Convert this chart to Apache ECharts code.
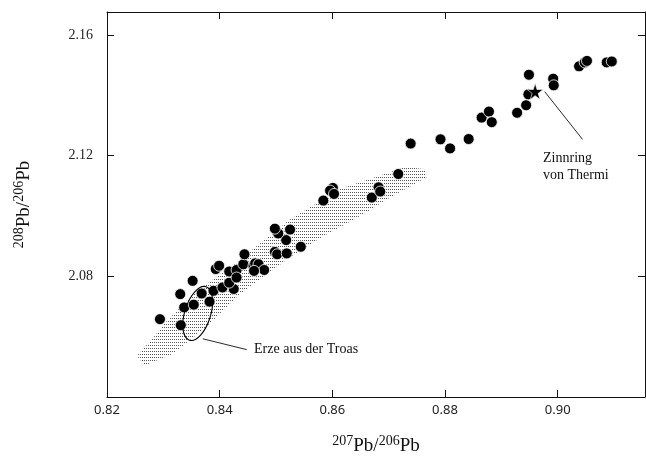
<!DOCTYPE html>
<html>
<head>
<meta charset="utf-8">
<script src="https://cdn.jsdelivr.net/npm/echarts@6/dist/echarts.min.js"></script>
<style>
html,body{margin:0;padding:0;background:#fff;}
#chart{width:646px;height:464px;}
</style>
</head>
<body>
<div id="chart"></div>
<script>
// ---- data ----
const pbX = [0.8294,0.8331,0.8337,0.8330,0.8354,0.8352,0.8368,0.8382,0.8389,0.8405,
             0.8425,0.8417,0.8393,0.8399,0.8417,0.8430,0.8430,0.8442,0.8444,0.8460,
             0.8463,0.8469,0.8479,0.8461,0.8498,0.8502,0.8518,0.8519,0.8544,0.8504,
             0.8498,0.8525,0.8584,0.8601,0.8596,0.8603,0.8670,0.8682,0.8685,0.8717,
             0.8739,0.8792,0.8809,0.8842,0.8865,0.8878,0.8883,0.8928,0.8944,0.8948,
             0.8949,0.8992,0.8993,0.9038,0.9048,0.9052,0.9087,0.9096];
const pbY = [2.0658,2.0638,2.0697,2.0741,2.0706,2.0785,2.0743,2.0716,2.0752,2.0763,
             2.0758,2.0779,2.0824,2.0835,2.0816,2.0821,2.0796,2.0840,2.0873,2.0835,
             2.0843,2.0840,2.0821,2.0818,2.0881,2.0873,2.0920,2.0876,2.0898,2.0942,
             2.0958,2.0955,2.1051,2.1093,2.1084,2.1073,2.1061,2.1095,2.1081,2.1139,
             2.1240,2.1254,2.1224,2.1255,2.1326,2.1346,2.1311,2.1342,2.1367,2.1403,
             2.1468,2.1455,2.1433,2.1496,2.1509,2.1514,2.1509,2.1512];
const starX = [0.8960];
const starY = [2.1413];
// stippled field (ores from the Troad), outline vertices
const bandX = [0.8253,0.8276,0.8303,0.8353,0.8436,0.8525,0.8614,0.8672,0.8729,0.8763,
               0.8768,0.8702,0.8644,0.8583,0.8525,0.8436,0.8378,0.8317,0.8267];
const bandY = [2.0537,2.0583,2.0645,2.0741,2.0856,2.0988,2.1090,2.1126,2.1162,2.1156,
               2.1129,2.1060,2.0994,2.0932,2.0863,2.0741,2.0635,2.0543,2.0504];
// ellipse centre
const ellX = [0.8361];
const ellY = [2.0677];
// annotations
const noteText = ['Erze aus der Troas', 'Zinnring\nvon Thermi'];
const noteLineFrom = [[0.8370, 2.0593], [0.8977, 2.1412]];
const noteLineTo   = [[0.8448, 2.0557], [0.9044, 2.1254]];
const noteTextAt   = [[0.8461, 2.0557], [0.8974, 2.1164]];
const xTickStep = 0.02, yTickStep = 0.04;

// ---- chart ----
const chart = echarts.init(document.getElementById('chart'), null, {renderer:'canvas'});
const pc = document.createElement('canvas');
pc.width = 2; pc.height = 3;
const pctx = pc.getContext('2d');
pctx.fillStyle = '#555';
pctx.fillRect(0, 0, 1, 1);
const stipple = {type:'pattern', image: pc, repeat: 'repeat'};

const serif = 'Liberation Serif';
const axisLineStyle = {color:'#111', width:1};
const nameRich = {
  s: {fontSize: 14, fontFamily: serif, color:'#111', verticalAlign:'top', lineHeight: 14},
  p: {fontSize: 19, fontFamily: serif, color:'#111', lineHeight: 25}
};

const starPath = 'path://M50,0 L61,35 L98,35 L68,57 L79,91 L50,70 L21,91 L32,57 L2,35 L39,35 Z';

const option = {
  animation: false,
  backgroundColor: '#fff',
  grid: {left: 107, right: 1, top: 12, bottom: 65, containLabel: false},
  xAxis: [{
    type: 'value', min: 0.82, max: 0.9155, interval: xTickStep, position: 'bottom',
    axisLine: {show: true, onZero: false, lineStyle: axisLineStyle},
    axisTick: {show: true, inside: true, length: 7, lineStyle: axisLineStyle},
    axisLabel: {formatter: v => v.toFixed(2), fontFamily: 'Noto Sans', fontSize: 13, color: '#222', margin: 7, showMaxLabel: false},
    splitLine: {show: false},
    name: '{s|207}{p|Pb}/{s|206}{p|Pb}', nameLocation: 'middle', nameGap: 37,
    nameTextStyle: {fontSize: 19, fontFamily: serif, color: '#111', lineHeight: 25, rich: nameRich}
  }, {
    type: 'value', min: 0.82, max: 0.9155, interval: xTickStep, position: 'top',
    axisLine: {show: true, onZero: false, lineStyle: axisLineStyle},
    axisTick: {show: true, inside: true, length: 7, lineStyle: axisLineStyle},
    axisLabel: {show: false}, splitLine: {show: false}
  }],
  yAxis: [{
    type: 'value', min: 2.04, max: 2.1676, interval: yTickStep, position: 'left',
    axisLine: {show: true, onZero: false, lineStyle: axisLineStyle},
    axisTick: {show: true, inside: true, length: 7, lineStyle: axisLineStyle},
    axisLabel: {formatter: v => v.toFixed(2), fontFamily: serif, fontSize: 14, color: '#222', margin: 14, showMinLabel: false, showMaxLabel: false},
    splitLine: {show: false},
    name: '{s|208}{p|Pb}/{s|206}{p|Pb}', nameLocation: 'middle', nameGap: 70, nameRotate: 90,
    nameTextStyle: {fontSize: 19, fontFamily: serif, color: '#111', lineHeight: 25, rich: nameRich}
  }, {
    type: 'value', min: 2.04, max: 2.1676, interval: yTickStep, position: 'right',
    axisLine: {show: true, onZero: false, lineStyle: axisLineStyle},
    axisTick: {show: true, inside: true, length: 7, lineStyle: axisLineStyle},
    axisLabel: {show: false}, splitLine: {show: false}
  }],
  series: [{
    type: 'custom', name: 'band', z: 1, clip: false,
    data: [[bandX[0], bandY[0]]],
    renderItem: function (params, api) {
      const pts = bandX.map((x, i) => api.coord([x, bandY[i]]));
      return {type: 'polygon', shape: {points: pts}, style: {fill: stipple, stroke: null}};
    }
  }, {
    type: 'scatter', name: 'samples', z: 3,
    data: pbX.map((x, i) => [x, pbY[i]]),
    symbol: 'circle', symbolSize: 11,
    itemStyle: {color: '#000', opacity: 1, borderColor: '#fff', borderWidth: 0.8}
  }, {
    type: 'scatter', name: 'Zinnring', z: 4,
    data: starX.map((x, i) => [x, starY[i]]),
    symbol: starPath, symbolSize: 16,
    itemStyle: {color: '#000', opacity: 1, borderColor: '#fff', borderWidth: 0.6}
  }, {
    type: 'custom', name: 'ellipse', z: 5, clip: false,
    data: ellX.map((x, i) => [x, ellY[i]]),
    renderItem: function (params, api) {
      const c = api.coord([api.value(0), api.value(1)]);
      return {type: 'ellipse', x: c[0], y: c[1], rotation: -0.30,
        shape: {cx: 0, cy: 0, rx: 13, ry: 28},
        style: {fill: null, stroke: '#000', lineWidth: 1.1}};
    }
  }, {
    type: 'custom', name: 'notes', z: 6, clip: false,
    data: noteText.map((t, i) => [noteTextAt[i][0], noteTextAt[i][1]]),
    renderItem: function (params, api) {
      const i = params.dataIndex;
      const a = api.coord(noteLineFrom[i]);
      const b = api.coord(noteLineTo[i]);
      const t = api.coord(noteTextAt[i]);
      return {type: 'group', children: [
        {type: 'line', shape: {x1: a[0], y1: a[1], x2: b[0], y2: b[1]}, style: {stroke: '#111', lineWidth: 0.9}},
        {type: 'text', x: t[0], y: t[1], style: {text: noteText[i], fill: '#111',
          font: '14px "' + serif + '"', lineHeight: 17, align: 'left', verticalAlign: 'middle'}}
      ]};
    }
  }]
};
chart.setOption(option);
</script>
</body>
</html>
